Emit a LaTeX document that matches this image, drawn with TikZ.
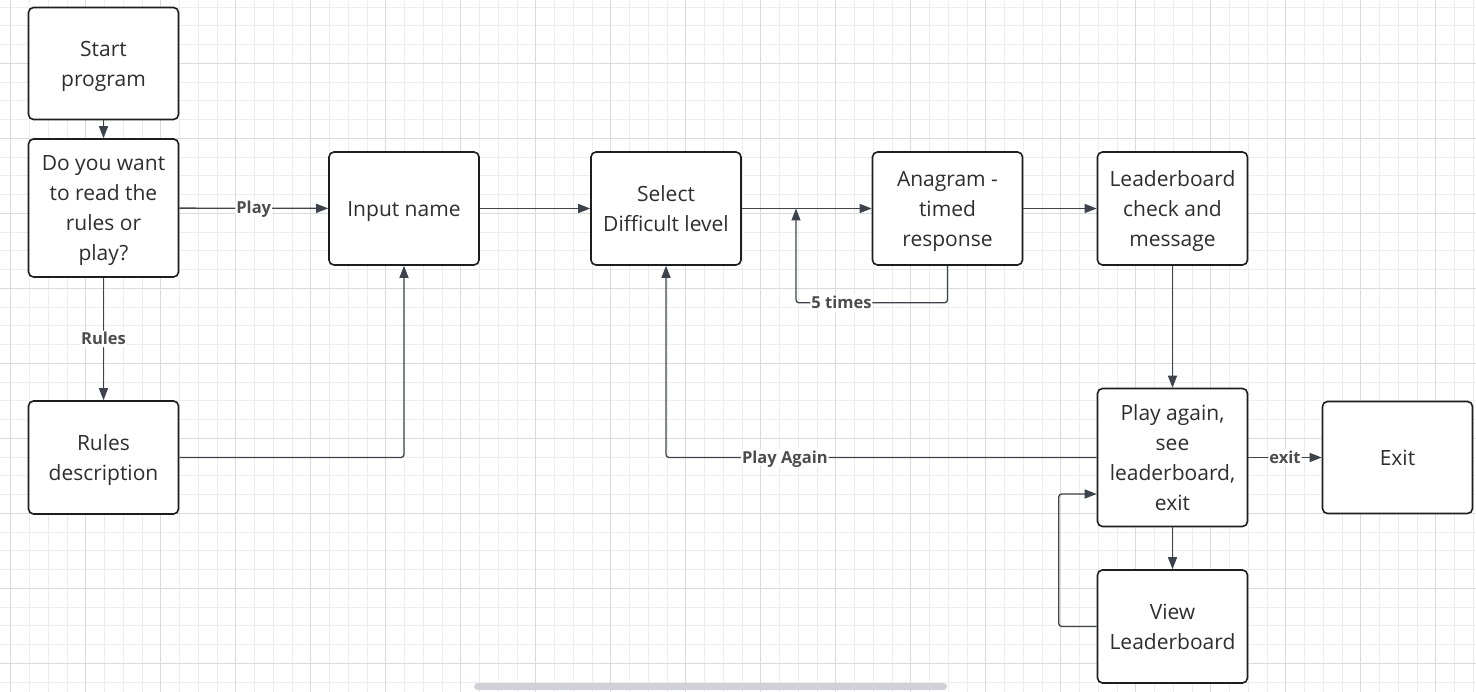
\documentclass[tikz,border=0pt]{standalone}
\usepackage{fontspec}
\setmainfont{Open Sans}
\usetikzlibrary{arrows.meta}
\definecolor{boxline}{HTML}{1E1E1E}
\definecolor{wirecol}{HTML}{3C434D}
\definecolor{ink}{HTML}{2E2E2E}
\definecolor{tagcol}{HTML}{4D4D4D}
\definecolor{gridminor}{HTML}{EDEDED}
\definecolor{gridmajor}{HTML}{DADADA}
\definecolor{scrollcol}{HTML}{CFD1D6}
\tikzset{
  lines/.code={\pgfmathsetmacro\rowheight{(#1-1)*30+23}%
    \tikzset{text depth=7pt, text height/.expanded=\rowheight pt}},
  stepbox/.style={draw=boxline, line width=1.6pt, rounded corners=5pt, fill=white,
    text=ink, align=center, minimum width=150pt, minimum height=113pt, inner sep=0pt,
    font=\fontsize{21}{30}\selectfont, lines=1},
  wire/.style={draw=wirecol, line width=1.3pt, rounded corners=3pt,
    -{Triangle[length=12pt,width=9pt]}},
  tag/.style={fill=white, text=tagcol, inner sep=1pt, text height=13pt, text depth=1.5pt,
    font=\bfseries\fontsize{16.5}{18}\selectfont},
}

\begin{document}
\begin{tikzpicture}[x=1pt,y=-1pt]
\useasboundingbox (0,0) rectangle (1476,692);
\fill[white] (0,0) rectangle (1476,692);
\begin{scope}
\clip (0,0) rectangle (1476,692);
\foreach \i in {0,...,79}
  \draw[gridminor, line width=0.8pt] (-8.05+18.75*\i,0) -- ++(0,692);
\foreach \j in {0,...,36}
  \draw[gridminor, line width=0.8pt] (0,7.05+18.75*\j) -- ++(1476,0);
\foreach \i in {0,...,19}
  \draw[gridmajor, line width=0.8pt] (10.7+75*\i,0) -- ++(0,692);
\foreach \j in {0,...,8}
  \draw[gridmajor, line width=0.8pt] (0,63.3+75*\j) -- ++(1476,0);
\end{scope}
\fill[scrollcol, rounded corners=3.5pt] (474,683) rectangle (947,690);

\node[stepbox, lines=2, minimum height=112pt] (start) at (103.5,63.5) {Start\\program};
\node[stepbox, lines=4, minimum height=138pt] (ask) at (103.5,208) {Do you want\\to read the\\rules or\\play?};
\node[stepbox] (input) at (404,208.5) {Input name};
\node[stepbox, lines=2] (select) at (666,208.5) {Select\\Difficult level};
\node[stepbox, lines=3] (anagram) at (947.5,208.5) {Anagram -\\timed\\response};
\node[stepbox, lines=3] (leader) at (1172.5,208.5) {Leaderboard\\check and\\message};
\node[stepbox, lines=2] (rules) at (103.5,457.5) {Rules\\description};
\node[stepbox, lines=4, minimum height=138pt] (again) at (1172.5,457.5) {Play again,\\see\\leaderboard,\\exit};
\node[stepbox, minimum height=112pt] (quit) at (1397.5,457.5) {Exit};
\node[stepbox, lines=2] (view) at (1172.5,626.5) {View\\Leaderboard};
\coordinate (merge) at (796,208.5);

\draw[wire] (start) -- (ask);
\draw[wire] (ask) -- node[tag]{Play} (input);
\draw[wire] (ask) -- node[tag]{Rules} (rules);
\draw[wire] (rules) -| (input);
\draw[wire] (input) -- (select);
\draw[wire] (select) -- (anagram);
\draw[wire] (anagram.south) -- ++(0,37) -| node[tag, pos=0.35]{5 times} (merge);
\draw[wire] (anagram) -- (leader);
\draw[wire] (leader) -- (again);
\draw[wire] (again) -| node[tag, pos=0.362]{Play Again} (select);
\draw[wire] (again) -- node[tag]{exit} (quit);
\draw[wire] (again) -- (view);
\draw[wire] (view.west) -- ++(-38,0) |- ([yshift=-36.5pt]again.west);
\end{tikzpicture}
\end{document}
